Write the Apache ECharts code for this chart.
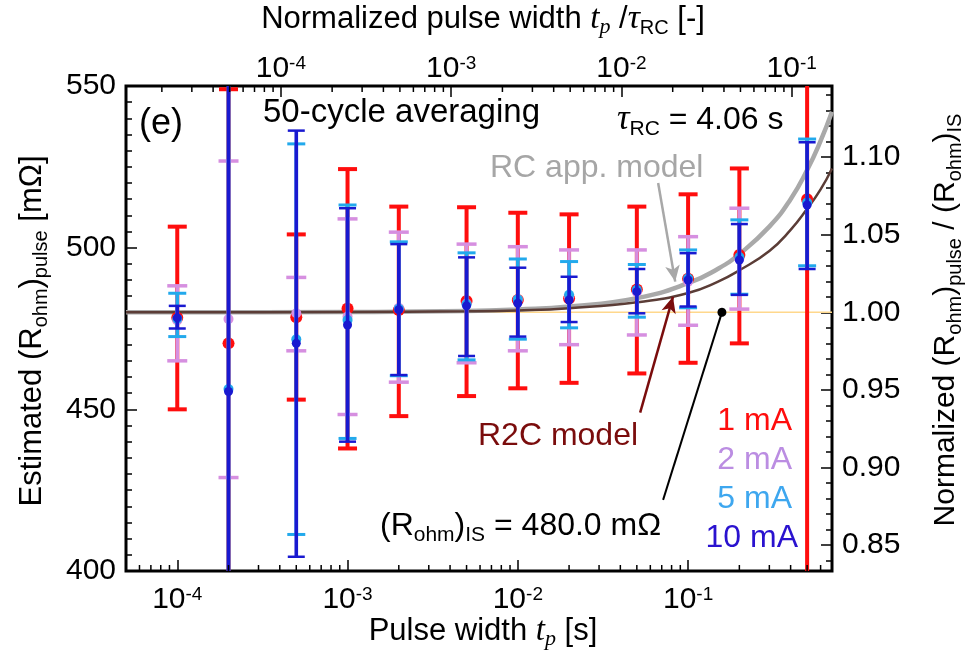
<!DOCTYPE html>
<html>
<head>
<meta charset="utf-8">
<script src="https://cdn.jsdelivr.net/npm/echarts@6/dist/echarts.min.js"></script>
<style>
  html, body { margin: 0; background: #fff; }
  #chart { width: 973px; height: 656px; }
</style>
</head>
<body>
<div id="chart"></div>
<script>
  const SANS = 'Liberation Sans, Arial, sans-serif';
  const SERIF = 'Liberation Serif, Times New Roman, serif';

  // pulse widths [s]
  const pulseWidth = [1e-4, 2e-4, 5e-4, 1e-3, 2e-3, 5e-3, 1e-2, 2e-2, 5e-2, 1e-1, 2e-1, 5e-1];
  const tauRC = 4.06; // s
  const rIS = 480.0; // mΩ

  // [mean, lower, upper] in mΩ, one row per pulse width (null = no point)
  const mA1 = [
    [478.3, 450.0, 506.5], [470.4, 391.0, 549.0], [478.5, 453.0, 504.1], [481.2, 437.9, 524.3],
    [480.7, 447.9, 512.7], [483.5, 454.1, 512.5], [483.8, 456.5, 510.8], [484.3, 458.2, 510.3],
    [487.1, 461.1, 512.7], [490.4, 464.4, 516.5], [497.7, 470.4, 524.5], [515.0, 395.0, 635.0]
  ];
  const mA2 = [
    [477.5, 465.0, 488.2], [477.9, 428.9, 526.8], [479.7, 468.1, 490.8], [478.7, 448.4, 508.9],
    [481.4, 458.4, 504.8], [482.7, 464.4, 501.1], [484.0, 468.1, 500.3], [484.6, 470.0, 499.3],
    [486.2, 473.0, 499.3], [489.5, 476.0, 503.4], [496.6, 481.0, 512.2], null
  ];
  const mA5 = [
    [478.0, 472.5, 485.9], [456.3, 356.0, 556.0], [471.7, 411.3, 532.1], [477.6, 441.0, 513.2],
    [481.1, 460.4, 501.8], [482.5, 465.3, 498.4], [484.0, 471.7, 496.5], [485.4, 475.2, 495.7],
    [487.0, 478.5, 494.8], [490.5, 481.4, 499.3], [497.1, 485.6, 508.6], [514.0, 494.4, 533.6]
  ];
  const mA10 = [
    [478.3, 475.0, 482.0], [455.5, 355.0, 556.0], [470.4, 404.4, 536.2], [476.1, 440.0, 512.2],
    [480.8, 460.6, 501.1], [482.0, 466.5, 497.0], [482.8, 472.5, 493.8], [483.8, 477.0, 491.0],
    [486.4, 479.7, 493.4], [490.0, 481.8, 498.3], [496.2, 485.4, 507.3], [513.2, 493.4, 532.6]
  ];

  // model curves
  const curveT = [5e-5, 1e-4, 1e-3, 5e-3, 1e-2, 2e-2, 5e-2, 0.1, 0.15, 0.2, 0.3, 0.4, 0.5, 0.6, 0.7];
  const rcApp = [480, 480, 480.1, 480.4, 480.9, 481.8, 484.4, 489, 493.5, 498, 506.5, 515, 524, 533, 542];
  const r2c = [480, 480, 480.1, 480.3, 480.6, 481.3, 483.1, 486, 489.5, 493, 499, 505.5, 512, 518, 524.5];

  // axis ranges and minor ticks
  const xMin = 5e-5, xMax = 0.7;
  const bottomMinor = [6e-5, 7e-5, 8e-5, 9e-5, 2e-4, 3e-4, 4e-4, 5e-4, 6e-4, 7e-4, 8e-4, 9e-4,
    2e-3, 3e-3, 4e-3, 5e-3, 6e-3, 7e-3, 8e-3, 9e-3, 2e-2, 3e-2, 4e-2, 5e-2, 6e-2, 7e-2, 8e-2, 9e-2,
    0.2, 0.3, 0.4, 0.5, 0.6];
  const topMinor = [2e-5, 3e-5, 4e-5, 5e-5, 6e-5, 7e-5, 8e-5, 9e-5, 2e-4, 3e-4, 4e-4, 5e-4, 6e-4, 7e-4, 8e-4, 9e-4,
    2e-3, 3e-3, 4e-3, 5e-3, 6e-3, 7e-3, 8e-3, 9e-3, 2e-2, 3e-2, 4e-2, 5e-2, 6e-2, 7e-2, 8e-2, 9e-2];

  const chart = echarts.init(document.getElementById('chart'), null, { renderer: 'canvas' });

  // drawing order: 1 mA at the bottom, 10 mA on top
  const currentSets = [mA1, mA2, mA5, mA10];
  const barStyles = [
    { color: '#ff0d0d', lw: 4, cap: 19, capW: 4, r: 6 },
    { color: '#d68fe0', lw: 3.6, cap: 20, capW: 3.5, r: 5 },
    { color: '#22a9ec', lw: 3.6, cap: 18, capW: 3, r: 5 },
    { color: '#1919d0', lw: 3.6, cap: 17, capW: 2.5, r: 4.5 }
  ];
  const barRows = pulseWidth.map((t, i) =>
    [t].concat(...currentSets.map((s) => (s[i] ? s[i] : ['-', '-', '-']))));

  function minorTicks(values, axisIndex, atTop) {
    return {
      type: 'custom',
      xAxisIndex: axisIndex,
      yAxisIndex: 0,
      silent: true,
      z: 5,
      data: values.map((v) => [v, 475]),
      encode: { x: 0, y: 1 },
      renderItem(params, api) {
        const cs = params.coordSys;
        const x = api.coord([api.value(0), 475])[0];
        const y = atTop ? cs.y : cs.y + cs.height;
        const d = atTop ? 6 : -6;
        return { type: 'line', shape: { x1: x, y1: y, x2: x, y2: y + d }, style: { stroke: '#000', lineWidth: 1.5 } };
      }
    };
  }

  const powLabel = (v) => '{b|10}{e|' + Math.round(Math.log10(v)) + '}';
  const powRich = {
    b: { fontFamily: SANS, fontSize: 30, lineHeight: 30, color: '#000' },
    e: { fontFamily: SANS, fontSize: 19, lineHeight: 19, verticalAlign: 'top', color: '#000' }
  };

  const richText = (size) => ({
    s: { fontFamily: SANS, fontSize: Math.round(size * 0.66), lineHeight: Math.round(size * 0.66), verticalAlign: 'bottom' },
    t: { fontFamily: SERIF, fontStyle: 'italic', fontSize: size + 2, lineHeight: size + 8 },
    ts: { fontFamily: SERIF, fontStyle: 'italic', fontSize: Math.round(size * 0.7), lineHeight: Math.round(size * 0.7), verticalAlign: 'bottom' },
    g: { fontFamily: SERIF, fontStyle: 'italic', fontSize: size + 3, lineHeight: size + 8 }
  });

  function label(x, y, text, size, color, extra) {
    return Object.assign({
      type: 'text',
      x, y,
      z: 100,
      style: Object.assign({
        text,
        fill: color || '#000',
        fontFamily: SANS,
        fontSize: size,
        lineHeight: size + 8,
        align: 'left',
        verticalAlign: 'middle',
        rich: richText(size)
      }, extra && extra.style)
    }, extra && extra.el);
  }

  const option = {
    animation: false,
    backgroundColor: '#fff',
    grid: { left: 126, right: 141, top: 86, bottom: 85, show: true, borderColor: '#000', borderWidth: 3 },
    xAxis: [
      {
        type: 'log', position: 'bottom', min: xMin, max: xMax, logBase: 10,
        axisLine: { show: false },
        axisTick: { inside: true, length: 11, lineStyle: { color: '#000', width: 1.5 } },
        splitLine: { show: false },
        axisLabel: { margin: 14, showMinLabel: false, showMaxLabel: false, formatter: powLabel, rich: powRich }
      },
      {
        type: 'log', position: 'top', min: xMin / tauRC, max: xMax / tauRC, logBase: 10,
        axisLine: { show: false },
        axisTick: { inside: true, length: 11, lineStyle: { color: '#000', width: 1.5 } },
        splitLine: { show: false },
        axisLabel: { margin: 2, showMinLabel: false, showMaxLabel: false, formatter: powLabel, rich: powRich }
      }
    ],
    yAxis: [
      {
        type: 'value', position: 'left', min: 400, max: 550, interval: 50,
        axisLine: { show: false },
        axisTick: { inside: true, length: 11, lineStyle: { color: '#000', width: 1.5 } },
        minorTick: { show: true, splitNumber: 10, length: 6, lineStyle: { color: '#000', width: 1.5 } },
        splitLine: { show: false },
        axisLabel: { margin: 10, color: '#000', fontFamily: SANS, fontSize: 30 }
      },
      {
        type: 'value', position: 'right', min: 400 / rIS, max: 550 / rIS,
        axisLine: { show: false },
        axisTick: { inside: true, length: 11, lineStyle: { color: '#000', width: 1.5 } },
        minorTick: { show: true, splitNumber: 5, length: 6, lineStyle: { color: '#000', width: 1.5 } },
        splitLine: { show: false },
        axisLabel: {
          margin: 10, color: '#000', fontFamily: SANS, fontSize: 30,
          showMinLabel: false, showMaxLabel: false,
          formatter: (v) => v.toFixed(2)
        }
      }
    ],
    series: [
      {
        type: 'line', name: 'IS', xAxisIndex: 0, yAxisIndex: 0, z: 2,
        data: [[xMin, rIS], [xMax, rIS]],
        symbol: 'none', silent: true,
        lineStyle: { color: '#ffd88c', width: 1.5 },
        markLine: {
          silent: true, symbol: ['none', 'arrow'], symbolSize: [11, 16], label: { show: false },
          data: [
            [{ coord: [0.0667, 520], lineStyle: { color: '#a8a8a8', width: 2.5, type: 'solid' } }, { coord: [0.084, 489.5] }],
            [{ coord: [0.0523, 449], lineStyle: { color: '#7a0c0c', width: 2.5, type: 'solid' } }, { coord: [0.0815, 484.8] }],
            [{ coord: [0.0713, 422], symbol: 'none', lineStyle: { color: '#000', width: 2, type: 'solid' } },
              { coord: [0.158, 480], symbol: 'circle', symbolSize: 9, itemStyle: { color: '#000' } }]
          ]
        }
      },
      {
        type: 'line', name: 'RC app. model', xAxisIndex: 0, yAxisIndex: 0, z: 3, smooth: true,
        data: curveT.map((t, i) => [t, rcApp[i]]),
        symbol: 'none', silent: true,
        lineStyle: { color: '#a9a9a9', width: 4.5 }
      },
      {
        type: 'line', name: 'R2C model', xAxisIndex: 0, yAxisIndex: 0, z: 3, smooth: true,
        data: curveT.map((t, i) => [t, r2c[i]]),
        symbol: 'none', silent: true,
        lineStyle: { color: '#5b3d37', width: 2.5 }
      },
      {
        type: 'custom', name: 'error bars', xAxisIndex: 0, yAxisIndex: 0, z: 4,
        data: barRows,
        encode: { x: 0, y: [1, 4, 7, 10] },
        renderItem(params, api) {
          const cs = params.coordSys;
          const top = cs.y, bottom = cs.y + cs.height;
          const inside = (y) => y >= top - 0.5 && y <= bottom + 0.5;
          const clampY = (y) => Math.min(bottom, Math.max(top, y));
          const x = api.value(0);
          const children = [];
          barStyles.forEach((st, k) => {
            const mean = api.value(1 + 3 * k);
            if (isNaN(mean)) return;
            const m = api.coord([x, mean]);
            const lo = api.coord([x, api.value(2 + 3 * k)]);
            const hi = api.coord([x, api.value(3 + 3 * k)]);
            const hw = st.cap / 2;
            children.push({
              type: 'line', z2: k * 10,
              shape: { x1: m[0], y1: clampY(lo[1]), x2: m[0], y2: clampY(hi[1]) },
              style: { stroke: st.color, lineWidth: st.lw }
            });
            [lo, hi].forEach((p) => {
              if (!inside(p[1])) return;
              children.push({
                type: 'line', z2: k * 10 + 1,
                shape: { x1: p[0] - hw, y1: p[1], x2: p[0] + hw, y2: p[1] },
                style: { stroke: st.color, lineWidth: st.capW }
              });
            });
            children.push({ type: 'circle', z2: k * 10 + 2, shape: { cx: m[0], cy: m[1], r: st.r }, style: { fill: st.color } });
          });
          return { type: 'group', children };
        }
      },
      minorTicks(bottomMinor, 0, false),
      minorTicks(topMinor, 1, true)
    ],
    graphic: [
      label(139, 124, '(e)', 36),
      label(263, 113, '50-cycle averaging', 33),
      label(617, 120, '{g|τ}{s|RC} = 4.06 s', 32),
      label(490, 168, 'RC app. model', 32, '#a6a6a6'),
      label(478, 436, 'R2C model', 32, '#7a0c0c'),
      label(380, 526, '(R{s|ohm}){s|IS} = 480.0 mΩ', 32),
      label(792, 421, '1 mA', 32, '#ff0d0d', { style: { align: 'right' } }),
      label(792, 460, '2 mA', 32, '#bb8de2', { style: { align: 'right' } }),
      label(792, 499, '5 mA', 32, '#3ea7ef', { style: { align: 'right' } }),
      label(798, 538, '10 mA', 32, '#2a12cf', { style: { align: 'right' } }),
      // axis titles
      label(483, 19, 'Normalized pulse width {t|t}{ts|p} /{g|τ}{s|RC} [-]', 31, '#000', { style: { align: 'center' } }),
      label(483, 631, 'Pulse width {t|t}{ts|p} [s]', 31, '#000', { style: { align: 'center' } }),
      label(32, 331, 'Estimated (R{s|ohm}){s|pulse} [mΩ]', 31, '#000', { style: { align: 'center' }, el: { rotation: Math.PI / 2 } }),
      label(946, 320, 'Normalized (R{s|ohm}){s|pulse} / (R{s|ohm}){s|IS}', 30, '#000', { style: { align: 'center' }, el: { rotation: Math.PI / 2 } })
    ]
  };

  chart.setOption(option);
  window.addEventListener('resize', () => chart.resize());
</script>
</body>
</html>
